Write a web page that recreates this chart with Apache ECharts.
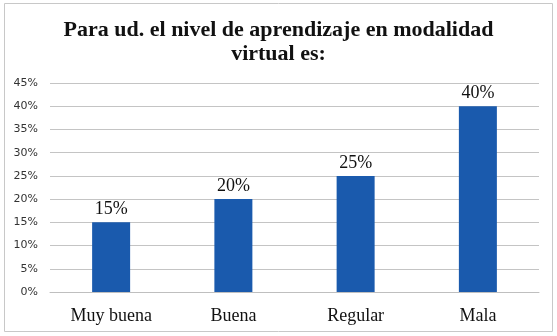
<!DOCTYPE html>
<html>
<head>
<meta charset="utf-8">
<script src="https://cdn.jsdelivr.net/npm/echarts@6/dist/echarts.min.js"></script>
<style>
  html, body { margin: 0; padding: 0; background: #fff; }
  #chart { width: 557px; height: 336px; }
</style>
</head>
<body>
<div id="chart"></div>
<script>
// categorias y valores (%)
const categories = ['Muy buena', 'Buena', 'Regular', 'Mala'];
const values = [15, 20, 25, 40];
const yTicks = [0, 5, 10, 15, 20, 25, 30, 35, 40, 45];

const chart = echarts.init(document.getElementById('chart'));
const option = {
  backgroundColor: '#fff',
  animation: false,
  graphic: [{
    type: 'rect',
    shape: { x: 4.5, y: 3.5, width: 548, height: 328 },
    style: { fill: 'none', stroke: '#c8c8c8', lineWidth: 1 },
    silent: true
  }],
  title: {
    text: 'Para ud. el nivel de aprendizaje en modalidad\nvirtual es:',
    left: 'center',
    top: 13,
    textStyle: {
      fontFamily: 'Liberation Serif',
      fontWeight: 'bold',
      fontSize: 22,
      lineHeight: 24,
      color: '#111'
    }
  },
  grid: { left: 50, right: 18, top: 83, bottom: 44 },
  xAxis: {
    type: 'category',
    data: categories,
    axisLine: { show: true, lineStyle: { color: '#bfbfbf' } },
    axisTick: { show: false },
    axisLabel: {
      fontFamily: 'Liberation Serif',
      fontSize: 18,
      color: '#111',
      margin: 15
    }
  },
  yAxis: {
    type: 'value',
    min: yTicks[0],
    max: yTicks[yTicks.length - 1],
    interval: 5,
    axisLine: { show: false },
    axisTick: { show: false },
    splitLine: { lineStyle: { color: '#c4c4c4', width: 1 } },
    axisLabel: {
      formatter: '{value}%',
      fontFamily: 'DejaVu Sans',
      fontSize: 11,
      color: '#333',
      margin: 12
    }
  },
  series: [{
    type: 'bar',
    data: values,
    barWidth: 38,
    itemStyle: { color: '#1a5aad' },
    label: {
      show: true,
      position: 'top',
      formatter: '{c}%',
      fontFamily: 'Liberation Serif',
      fontSize: 18,
      color: '#111',
      distance: 4
    }
  }]
};
chart.setOption(option);
</script>
</body>
</html>
